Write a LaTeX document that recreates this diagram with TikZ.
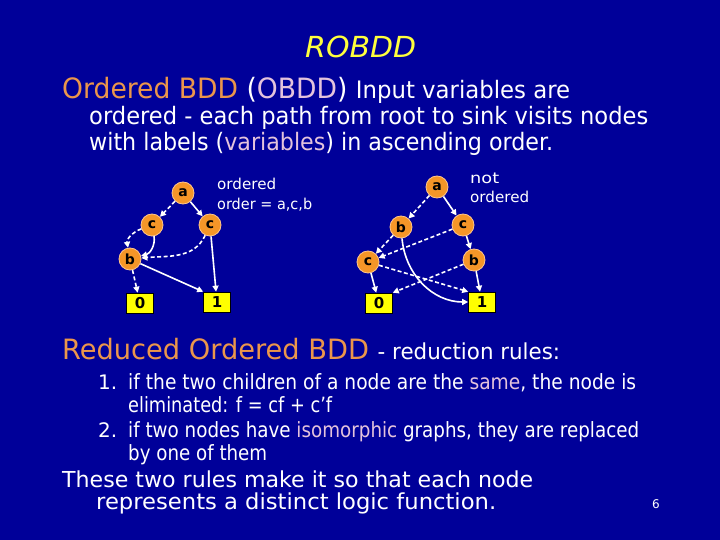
\documentclass[tikz,border=0pt]{standalone}
\usepackage{fontspec}
\setmainfont{DejaVu Sans}
\usetikzlibrary{arrows.meta}
\definecolor{bg}{RGB}{0,0,153}
\definecolor{hor}{RGB}{235,150,75}
\definecolor{pk}{RGB}{228,195,220}
\definecolor{tyel}{RGB}{255,255,60}
\definecolor{norg}{RGB}{245,150,40}
\definecolor{byel}{RGB}{255,255,0}
\newcommand\fitto[2]{\resizebox{#1}{\height}{#2}}
\newcommand\fs[1]{\fontsize{#1}{#1}\selectfont}
\tikzset{
  txt/.style={anchor=base west, inner sep=0pt, text=white},
  vnode/.style={circle, fill=norg, draw=white!55!orange, line width=0.8pt, minimum size=22pt, inner sep=0pt, font=\fs{14}\bfseries, text=black},
  leaf/.style={rectangle, fill=byel, draw=black, line width=0.6pt, minimum width=27pt, minimum height=20pt, inner sep=0pt, font=\fs{15}\bfseries, text=black},
  edge/.style={draw=white, line width=1.6pt, -{Triangle[length=6pt,width=6pt]}},
  dedge/.style={edge, dash pattern=on 4pt off 2.5pt},
}
\begin{document}
\begin{tikzpicture}[x=1pt,y=-1pt]
\fill[bg] (0,0) rectangle (720,540);
\useasboundingbox (0,0) rectangle (720,540);

% title and text
\node[anchor=base west, inner sep=0pt, text=tyel] (title) at (305,58) {\fitto{111pt}{\fs{29}\itshape ROBDD}};
\node[txt] (l1) at (62,99) {\fitto{508pt}{\fs{28}\textcolor{hor}{Ordered BDD} (\textcolor{pk}{OBDD}) {\fs{24}Input variables are}}};
\node[txt] (l2) at (89,125) {\fitto{559pt}{\fs{24}ordered - each path from root to sink visits nodes}};
\node[txt] (l3) at (89,151) {\fitto{464pt}{\fs{24}with labels (\textcolor{pk}{variables}) in ascending order.}};

\node[txt] (h2) at (62,359) {\fitto{498pt}{\fs{28}\textcolor{hor}{Reduced Ordered BDD} {\fs{22}- reduction rules:}}};
\node[txt] (n1) at (98,389) {\fs{20}1.};
\node[txt] (i1) at (128,389) {\fitto{508pt}{\fs{21}if the two children of a node are the \textcolor{pk}{same}, the node is}};
\node[txt] (i1b) at (128,412) {\fitto{204pt}{\fs{21}eliminated: f = cf + c’f}};
\node[txt] (n2) at (98,437) {\fs{20}2.};
\node[txt] (i2) at (128,437) {\fitto{511pt}{\fs{21}if two nodes have \textcolor{pk}{isomorphic} graphs, they are replaced}};
\node[txt] (i2b) at (128,460) {\fitto{139pt}{\fs{21}by one of them}};
\node[txt] (b1) at (62,487) {\fitto{471pt}{\fs{22}These two rules make it so that each node}};
\node[txt] (b2) at (96,509) {\fitto{400pt}{\fs{22}represents a distinct logic function.}};
\node[txt] (pg) at (652,508) {\fs{12}6};

% left graph
\node[vnode] (la) at (183,193) {a};
\node[vnode] (lc1) at (152,225) {c};
\node[vnode] (lc2) at (210,225) {c};
\node[vnode] (lb) at (130,259) {b};
\node[leaf] (l0) at (140,303) {0};
\node[leaf] (l1n) at (217,302) {1};
\node[txt] (lt1) at (217,190) {\fitto{59pt}{\fs{15}ordered}};
\node[txt] (lt2) at (217,210) {\fitto{95pt}{\fs{15}order = a,c,b}};

\draw[dedge] (la) -- (lc1);
\draw[edge] (la) -- (lc2);
\draw[dedge] (lc1) to[out=200,in=100] (lb);
\draw[edge] (lc1) to[out=-80,in=15] (lb);
\draw[dedge] (lc2) to[out=-115,in=5] (lb);
\draw[edge] (lc2) -- (l1n);
\draw[dedge] (lb) -- (l0);
\draw[edge] (lb) -- (l1n.north west);

% right graph
\node[vnode] (ra) at (437,187) {a};
\node[vnode] (rb1) at (401,227) {b};
\node[vnode] (rc1) at (463,225) {c};
\node[vnode] (rc2) at (368,262) {c};
\node[vnode] (rb2) at (474,260) {b};
\node[leaf] (r0) at (379,303) {0};
\node[leaf] (r1) at (482,302) {1};
\node[txt] (rt1) at (470,184) {\fitto{29pt}{\fs{15}not}};
\node[txt] (rt2) at (470,203) {\fitto{59pt}{\fs{15}ordered}};

\draw[dedge] (ra) -- (rb1);
\draw[edge] (ra) -- (rc1);
\draw[dedge] (rb1) -- (rc2);
\draw[edge] (rb1) to[out=-85,in=180] (r1.west);
\draw[dedge] (rc1) -- (rc2);
\draw[edge] (rc1) -- (rb2);
\draw[edge] (rc2) -- (r0);
\draw[dedge] (rc2) -- (r1.north west);
\draw[dedge] (rb2) -- (r0.north east);
\draw[edge] (rb2) -- (r1);
\end{tikzpicture}
\end{document}
